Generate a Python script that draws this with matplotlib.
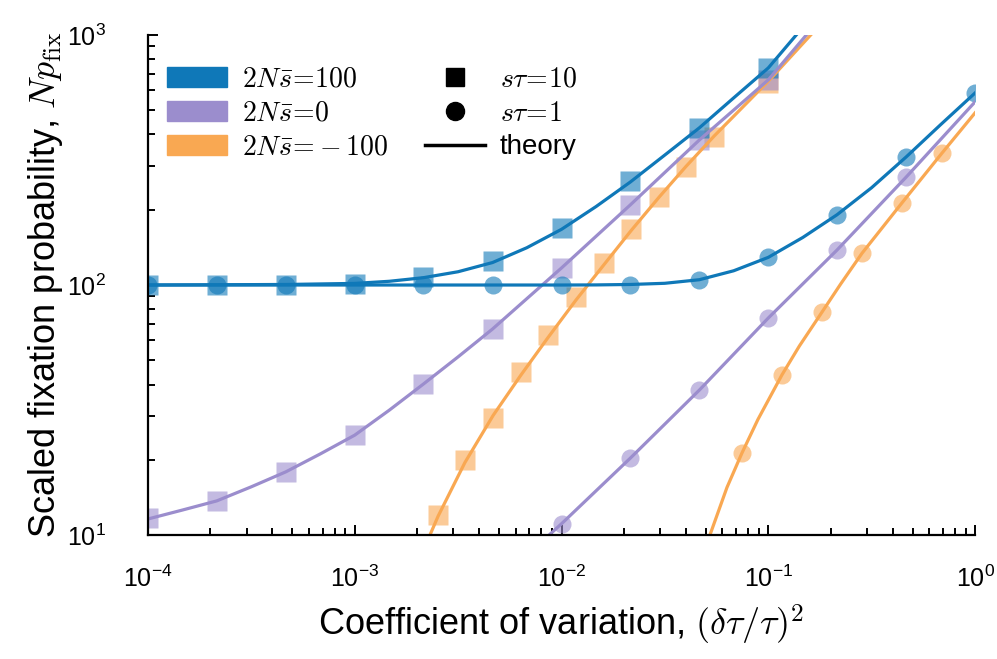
import numpy as np
import matplotlib
matplotlib.use('Agg')
import matplotlib.pyplot as plt
from matplotlib.patches import Patch
from matplotlib.lines import Line2D

plt.rcParams['font.family'] = ['Liberation Sans', 'DejaVu Sans']
plt.rcParams['mathtext.fontset'] = 'cm'

# simulation x grid (3 points per decade)
x_grid = [1e-4, 2.15e-4, 4.64e-4, 1e-3, 2.15e-3, 4.64e-3, 1e-2, 2.15e-2, 4.64e-2, 1e-1, 2.15e-1, 4.64e-1, 1.0]

# s*tau = 10 (squares)
blue_sq_x = x_grid[:10]
blue_sq_y = [100, 100, 100, 101, 108, 125, 169, 261, 425, 738]
purple_sq_x = x_grid[:10]
purple_sq_y = [11.7, 13.7, 17.9, 25.1, 40.2, 66.7, 117, 209, 380, 661]
orange_sq_x = [0.00253, 0.00341, 0.00467, 0.00637, 0.00861, 0.01175, 0.01607, 0.0217, 0.0297, 0.040, 0.0547, 0.1]
orange_sq_y = [12.0, 20.0, 29.4, 44.9, 63.1, 89.5, 122, 167, 225, 296, 391, 643]

# s*tau = 1 (circles)
blue_ci_x = x_grid
blue_ci_y = [100, 100, 100, 100, 100, 100, 100, 100, 105, 129, 191, 325, 586]
purple_ci_x = x_grid[6:12]
purple_ci_y = [11.1, 20.3, 38.0, 73.8, 138, 270]
orange_ci_x = [0.0746, 0.1164, 0.182, 0.284, 0.443, 0.692]
orange_ci_y = [21.3, 43.7, 78, 134, 213, 337]

# theory curves
blue10_th_x = [1e-4, 4.64e-4, 1e-3, 1.47e-3, 2.15e-3, 3.16e-3, 4.64e-3, 6.8e-3, 0.01, 0.0147,
               0.0215, 0.0316, 0.0464, 0.068, 0.1, 0.2]
blue10_th_y = [100, 100.5, 101.5, 103.5, 107, 113, 123, 141, 167, 206, 258, 331, 425, 560, 738, 1450]
purple10_th_x = [1e-4, 1.47e-4, 2.15e-4, 3.16e-4, 4.64e-4, 6.8e-4, 1e-3, 1.47e-3, 2.15e-3, 3.16e-3,
                 4.64e-3, 0.01, 0.0215, 0.0464, 0.1, 0.2]
purple10_th_y = [11.6, 12.6, 13.7, 15.6, 17.9, 21.1, 25.1, 31.6, 40.2, 51.6, 66.7, 117, 209, 380, 661, 1300]
orange10_th_x = [0.00231, 0.00253, 0.00341, 0.00467, 0.00637, 0.00861, 0.01175, 0.01607, 0.0217,
                 0.0297, 0.040, 0.0547, 0.1, 0.2]
orange10_th_y = [10, 11.9, 19.5, 30.1, 43.7, 61.7, 87.1, 120.8, 165, 225, 298, 394, 653, 1220]

blue1_th_x = [1e-4, 0.01, 0.0147, 0.0215, 0.0316, 0.0464, 0.068, 0.1, 0.147, 0.215, 0.316, 0.464, 0.68, 1.0]
blue1_th_y = [100, 100, 100.1, 100.5, 101.6, 105, 114, 129, 155, 191, 245, 325, 437, 586]
purple1_th_x = [0.0087, 0.01, 0.0215, 0.0464, 0.1, 0.215, 0.464, 1.0]
purple1_th_y = [10, 11.1, 20.3, 38.0, 73.8, 138, 270, 540]
orange1_th_x = [0.0522, 0.0631, 0.0746, 0.0891, 0.1164, 0.1413, 0.182, 0.224, 0.284, 0.443, 0.692, 1.0]
orange1_th_y = [10, 15.5, 21.3, 29.0, 43.7, 57.0, 78, 101, 134, 213, 337, 488]

labels = [r'$2N\bar{s}\!=\!100$', r'$2N\bar{s}\!=\!0$', r'$2N\bar{s}\!=\!-100$']
colors = ['#0f78b8', '#9b8dcd', '#f9a852']

fig = plt.figure(figsize=(9.97, 6.59), dpi=100)
ax = fig.add_axes([0.1484, 0.188, 0.8296, 0.759])

sq_sets = [(blue_sq_x, blue_sq_y), (purple_sq_x, purple_sq_y), (orange_sq_x, orange_sq_y)]
ci_sets = [(blue_ci_x, blue_ci_y), (purple_ci_x, purple_ci_y), (orange_ci_x, orange_ci_y)]
th_sets = [(blue10_th_x, blue10_th_y, blue1_th_x, blue1_th_y),
           (purple10_th_x, purple10_th_y, purple1_th_x, purple1_th_y),
           (orange10_th_x, orange10_th_y, orange1_th_x, orange1_th_y)]

# draw orange first so blue ends on top
for i in [2, 1, 0]:
    c = colors[i]
    ax.plot(sq_sets[i][0], sq_sets[i][1], 's', ms=14, color=c, alpha=0.6, mec='none')
    ax.plot(ci_sets[i][0], ci_sets[i][1], 'o', ms=13, color=c, alpha=0.6, mec='none')
for i in [2, 1, 0]:
    c = colors[i]
    t = th_sets[i]
    ax.plot(t[0], t[1], '-', color=c, lw=2.3)
    ax.plot(t[2], t[3], '-', color=c, lw=2.3)

ax.set_xscale('log')
ax.set_yscale('log')
ax.set_xlim(1e-4, 1)
ax.set_ylim(10, 1000)

for s in ['top', 'right']:
    ax.spines[s].set_visible(False)
for s in ['left', 'bottom']:
    ax.spines[s].set_linewidth(1.6)

ax.tick_params(which='both', direction='in', width=1.4, labelsize=18)
ax.tick_params(which='major', length=7)
ax.tick_params(which='minor', length=5)
ax.tick_params(axis='x', which='both', pad=22)
ax.tick_params(axis='y', which='both', pad=30)

ax.set_xlabel(r'Coefficient of variation, $(\delta\tau/\tau)^2$', fontsize=26, labelpad=8)
ax.set_ylabel(r'Scaled fixation probability, $Np_{\rm fix}$', fontsize=26, labelpad=2)

handles = [Patch(color=colors[0]), Patch(color=colors[1]), Patch(color=colors[2]),
           Line2D([], [], ls='none', marker='s', ms=13, color='black'),
           Line2D([], [], ls='none', marker='o', ms=13, color='black'),
           Line2D([], [], color='black', lw=2.5)]
leg_labels = labels + [r'$s\tau\!=\!10$', r'$s\tau\!=\!1$', 'theory']
ax.legend(handles, leg_labels, ncol=2, loc='upper left', bbox_to_anchor=(0.0, 0.975),
          frameon=False, fontsize=20, handlelength=2.15, handleheight=0.75,
          columnspacing=1.3, labelspacing=0.28, handletextpad=0.55, borderaxespad=0.3)

fig.savefig('out.png', dpi=100)
